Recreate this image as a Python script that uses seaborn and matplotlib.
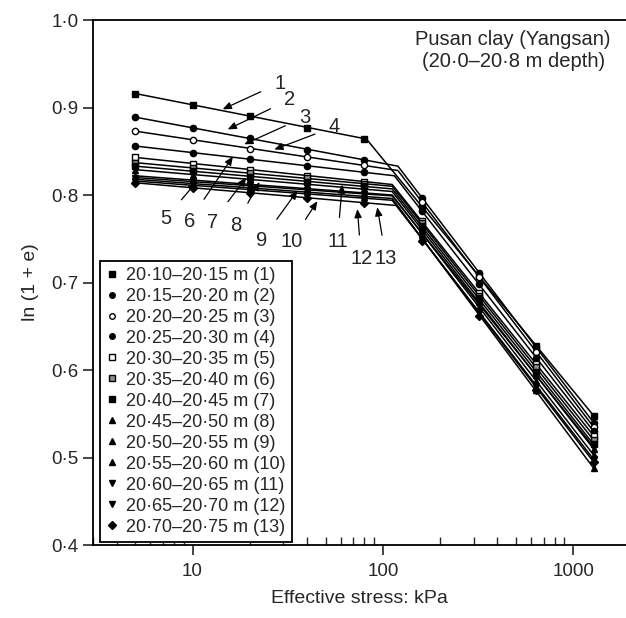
import numpy as np
import pandas as pd
import matplotlib
matplotlib.use('Agg')
import matplotlib.pyplot as plt
from matplotlib.ticker import FuncFormatter, NullFormatter, LogLocator
from matplotlib.lines import Line2D
import seaborn as sns

# effective stress steps of the oedometer tests (kPa)
stress = [5, 10, 20, 40, 80, 160, 320, 640, 1280]

depths = ['20·10–20·15 m (1)', '20·15–20·20 m (2)', '20·20–20·25 m (3)',
          '20·25–20·30 m (4)', '20·30–20·35 m (5)', '20·35–20·40 m (6)',
          '20·40–20·45 m (7)', '20·45–20·50 m (8)', '20·50–20·55 m (9)',
          '20·55–20·60 m (10)', '20·60–20·65 m (11)', '20·65–20·70 m (12)',
          '20·70–20·75 m (13)']

# ln(1+e)
s1 = [0.916, 0.903, 0.890, 0.877, 0.864, 0.787, 0.707, 0.628, 0.548]
s2 = [0.889, 0.877, 0.865, 0.852, 0.840, 0.797, 0.711, 0.626, 0.540]
s3 = [0.873, 0.863, 0.853, 0.843, 0.834, 0.792, 0.706, 0.621, 0.535]
s4 = [0.856, 0.848, 0.841, 0.833, 0.826, 0.782, 0.698, 0.614, 0.530]
s5 = [0.843, 0.836, 0.829, 0.822, 0.815, 0.770, 0.688, 0.607, 0.525]
s6 = [0.837, 0.831, 0.825, 0.819, 0.813, 0.768, 0.685, 0.603, 0.520]
s7 = [0.833, 0.827, 0.821, 0.815, 0.810, 0.765, 0.682, 0.598, 0.515]
s8 = [0.829, 0.823, 0.818, 0.812, 0.807, 0.761, 0.678, 0.594, 0.510]
s9 = [0.822, 0.817, 0.812, 0.807, 0.802, 0.756, 0.672, 0.587, 0.503]
s10 = [0.818, 0.813, 0.808, 0.803, 0.798, 0.751, 0.664, 0.577, 0.488]
s11 = [0.820, 0.815, 0.811, 0.806, 0.801, 0.756, 0.675, 0.593, 0.512]
s12 = [0.816, 0.811, 0.806, 0.801, 0.796, 0.749, 0.665, 0.581, 0.498]
s13 = [0.814, 0.808, 0.802, 0.797, 0.791, 0.748, 0.662, 0.577, 0.495]
series = [s1, s2, s3, s4, s5, s6, s7, s8, s9, s10, s11, s12, s13]

# bilinear fit: knee of each curve
knee_stress = [82, 120, 120, 115, 112, 112, 112, 112, 112, 112, 112, 112, 118]
knee_value = [0.864, 0.833, 0.828, 0.822, 0.812, 0.810, 0.807, 0.804,
              0.800, 0.796, 0.799, 0.794, 0.788]

markers = ['s', 'o', 'o', 'o', 's', 's', 's', '^', '^', '^', 'v', 'v', 'D']
faces = ['black', 'black', 'white', 'black', 'white', '0.55', 'black',
         'black', 'black', 'black', 'black', 'black', 'black']

# curve numbers: text position and arrow target (stress, ln(1+e))
tag_text = [str(i) for i in range(1, 14)]
tag_pos = [(28.7, 0.928), (32.3, 0.909), (38.7, 0.889), (55.6, 0.878),
           (7.2, 0.773), (9.6, 0.770), (12.7, 0.769), (16.8, 0.765),
           (23, 0.748), (33, 0.747), (57.7, 0.747), (77, 0.727), (104, 0.727)]
tag_end = [(14.4, 0.898), (15.3, 0.875), (18.7, 0.858), (26.9, 0.852),
           (10.5, 0.815), (16.3, 0.844), (19.2, 0.820), (22.5, 0.815),
           (35.6, 0.805), (45.3, 0.793), (61.2, 0.812), (73.5, 0.784),
           (93.5, 0.786)]

yticks = [0.4, 0.5, 0.6, 0.7, 0.8, 0.9, 1.0]

sns.set_style('ticks')
plt.rcParams['font.family'] = ['Liberation Sans', 'DejaVu Sans']

fit_rows = []
for i, s in enumerate(series):
    for x, y in [(stress[0], s[0]), (knee_stress[i], knee_value[i]), (stress[-1], s[-1])]:
        fit_rows.append({'curve': i + 1, 'stress': x, 'lne': y})
fit = pd.DataFrame(fit_rows)

fig = plt.figure(figsize=(6.26, 6.18), dpi=100)
ax = fig.add_axes([0.1486, 0.1181, 0.851, 0.8495])

sns.lineplot(data=fit, x='stress', y='lne', units='curve', estimator=None,
             color='black', lw=1.1, legend=False, ax=ax, sort=False)

handles = []
for i, s in enumerate(series):
    ax.plot(stress, s, linestyle='none', marker=markers[i], ms=4.5,
            mfc=faces[i], mec='black', mew=1.0)
    handles.append(Line2D([], [], linestyle='none', marker=markers[i], ms=4,
                          mfc=faces[i], mec='black', mew=1.0, label=depths[i]))

for t, p, e in zip(tag_text, tag_pos, tag_end):
    ax.annotate(t, xy=e, xytext=p, fontsize=14.5, ha='center', va='center',
                arrowprops=dict(arrowstyle='-|>,head_length=0.35,head_width=0.15',
                                color='black', lw=0.9, shrinkA=8, shrinkB=0))

ax.text(484, 0.965, 'Pusan clay (Yangsan)\n(20·0–20·8 m depth)', ha='center',
        va='center', fontsize=14.5, linespacing=1.2)

ax.set_xscale('log')
ax.set_xlim(3, 1890)
ax.set_ylim(0.4, 1.0)
ax.set_xticks([10, 100, 1000])
ax.set_xticklabels(['10', '100', '1000'])
ax.xaxis.set_minor_locator(LogLocator(base=10, subs=np.arange(2, 10)))
ax.xaxis.set_minor_formatter(NullFormatter())
ax.set_yticks(yticks)
ax.yaxis.set_major_formatter(FuncFormatter(lambda v, p: f'{v:.1f}'.replace('.', '·')))
ax.tick_params(axis='x', which='major', direction='out', length=7, width=1.2,
               labelsize=13.5, pad=6)
ax.tick_params(axis='x', which='minor', direction='in', length=6, width=1.0)
ax.tick_params(axis='y', which='major', direction='out', length=7, width=1.2,
               labelsize=13.5)
for side in ['left', 'bottom', 'top']:
    ax.spines[side].set_linewidth(1.3)
    ax.spines[side].set_color('black')
ax.spines['right'].set_visible(False)

ax.set_xlabel('Effective stress: kPa', fontsize=14, labelpad=7)
ax.set_ylabel('ln (1 + e)', fontsize=14, labelpad=9)

leg = ax.legend(handles=handles, loc='lower left', bbox_to_anchor=(0.013, 0.006),
                borderaxespad=0, fontsize=13, frameon=True, fancybox=False,
                framealpha=1, edgecolor='black', handlelength=0.6,
                handletextpad=0.5, labelspacing=0.22, borderpad=0.35)
leg.get_frame().set_linewidth(1.3)

plt.savefig('out.png', dpi=100)
